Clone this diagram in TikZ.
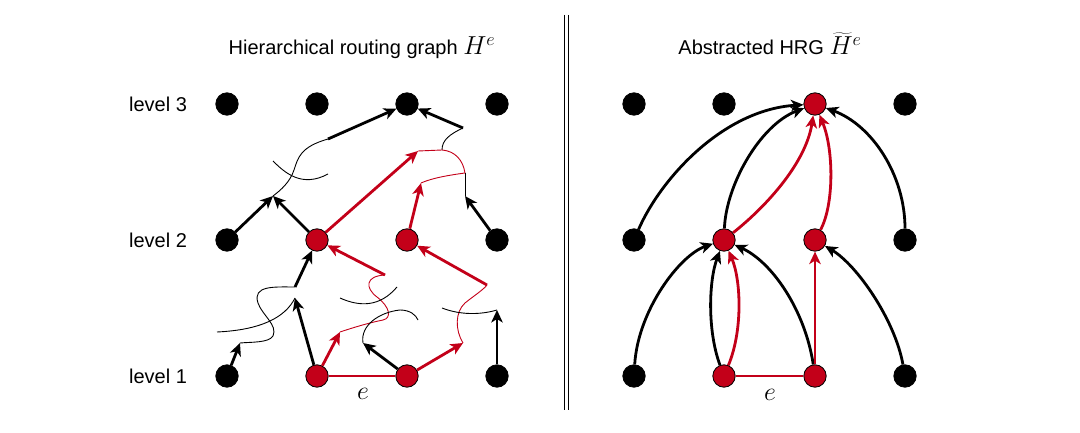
\documentclass[tikz,border=0pt]{standalone}
\usepackage{fix-cm}
\usepackage{fontspec}
\setmainfont{Liberation Sans}
\usetikzlibrary{arrows.meta}
\definecolor{hred}{RGB}{195,0,25}
\newcommand{\hrgmath}[1]{\scalebox{1.3}{$#1$}}
\tikzset{
  bn/.style={circle,draw=black,fill=black,line width=0.8pt,minimum size=22.4pt,inner sep=0pt},
  rn/.style={circle,draw=black,fill=hred,line width=0.8pt,minimum size=22.4pt,inner sep=0pt},
  tip/.style={-{Stealth[length=12.5pt,width=11.5pt,inset=3.5pt]}},
  bk/.style={tip,line width=2.8pt,black},
  rd/.style={tip,line width=2.8pt,hred},
  thinb/.style={line width=0.9pt,black},
  thinr/.style={line width=0.9pt,hred},
  lbl/.style={font=\fontsize{20}{22}\selectfont,inner sep=0pt},
}
\begin{document}
\begin{tikzpicture}[x=1pt,y=-1pt]
\useasboundingbox (0,0) rectangle (1080,433);
% titles
\node[lbl,anchor=base] (t1) at (362,55) {Hierarchical routing graph \hrgmath{H^e}};
\node[lbl,anchor=base] (t2) at (770,55) {Abstracted HRG \hrgmath{\widetilde{H}^e}};
\node[lbl] (lv3) at (158,104) {level 3};
\node[lbl] (lv2) at (158,240) {level 2};
\node[lbl] (lv1) at (158,376) {level 1};
% separator
\coordinate (s1) at (564,15); \coordinate (s2) at (564,410);
\coordinate (s3) at (568,15); \coordinate (s4) at (568,410);
\draw[line width=1pt] (s1) -- (s2);
\draw[line width=1pt] (s3) -- (s4);

% ---------------- left panel nodes
\node[bn] (a31) at (227,104) {};
\node[bn] (a32) at (317,104) {};
\node[bn] (a33) at (407,104) {};
\node[bn] (a34) at (497,104) {};
\node[bn] (a21) at (227,240) {};
\node[rn] (a22) at (317,240) {};
\node[rn] (a23) at (407,240) {};
\node[bn] (a24) at (497,240) {};
\node[bn] (a11) at (227,376) {};
\node[rn] (a12) at (317,376) {};
\node[rn] (a13) at (407,376) {};
\node[bn] (a14) at (497,376) {};
\node[lbl] (e1) at (363,394) {\hrgmath{e}};

% free ends
\coordinate (p1) at (328,139);
\coordinate (p2) at (273,196);
\coordinate (p3) at (273,161);
\coordinate (p4) at (328,174);
\coordinate (p5) at (463,128);
\coordinate (p6) at (442,150);
\coordinate (p7) at (418,151);
\coordinate (p8) at (465,173);
\coordinate (p9) at (421,183);
\coordinate (p10) at (465,196);
\coordinate (q1) at (385,275);
\coordinate (q2) at (383,320);
\coordinate (q3) at (340,332);
\coordinate (q4) at (295,298);
\coordinate (q5) at (217,332);
\coordinate (q6) at (295,287);
\coordinate (q7) at (240,343);
\coordinate (q8) at (340,298);
\coordinate (q9) at (397,287);
\coordinate (q10) at (363,343);
\coordinate (q11) at (418,320);
\coordinate (q12) at (463,343);
\coordinate (q13) at (487,285);
\coordinate (q14) at (442,308);
\coordinate (q15) at (497,310);

% thin curves (upper)
\draw[thinb] (p1) .. controls (300,147) and (298,158) .. (294,170) .. controls (290,182) and (281,190) .. (p2);
\draw[thinb] (p3) .. controls (285,173) and (302,188) .. (p4);
\draw[thinb] (p5) .. controls (450,134) and (442,140) .. (p6);
\draw[thinr] (p7) -- (p6) .. controls (455,151) and (463,160) .. (p8);
\draw[thinr] (p8) .. controls (450,175) and (432,178) .. (p9);
\draw[thinb] (p8) -- (p10);
% thick arrows (upper)
\draw[bk] (p1) -- (a33);
\draw[bk] (p5) -- (a33);
\draw[bk] (a21) -- (p2);
\draw[bk] (a22) -- (p2);
\draw[rd] (a22) -- (p7);
\draw[rd] (a23) -- (p9);
\draw[bk] (a24) -- (p10);

% thin curves (lower)
\draw[thinr] (q1) .. controls (365,276) and (365,288) .. (377,297) .. controls (390,307) and (392,318) .. (q2);
\draw[thinr] (q2) .. controls (368,323) and (352,328) .. (q3);
\draw[thinb] (q4) .. controls (285,318) and (260,330) .. (q5);
\draw[thinb] (q6) .. controls (275,287) and (252,285) .. (258,303) .. controls (262,315) and (278,325) .. (273,336) .. controls (269,343) and (250,342) .. (q7);
\draw[thinb] (q8) .. controls (360,307) and (380,307) .. (q9);
\draw[thinb] (q10) .. controls (360,325) and (380,312) .. (400,310) .. controls (410,310) and (416,315) .. (q11);
\draw[thinr] (q12) .. controls (455,330) and (455,312) .. (465,303) .. controls (475,295) and (483,290) .. (q13);
\draw[thinb] (q14) .. controls (460,315) and (480,315) .. (q15);
% thick arrows (lower)
\draw[rd] (q1) -- (a22);
\draw[rd] (a12) -- (q3);
\draw[bk] (a12) -- (q4);
\draw[bk] (q6) -- (a22);
\draw[bk] (a11) -- (q7);
\draw[bk] (a13) -- (q10);
\draw[rd] (a13) -- (q12);
\draw[rd] (q13) -- (a23);
\draw[bk] (a14) -- (q15);
\draw[line width=2.8pt,hred] (a12) -- (a13);

% ---------------- right panel nodes
\node[bn] (b31) at (634,104) {};
\node[bn] (b32) at (724,104) {};
\node[rn] (b33) at (815,104) {};
\node[bn] (b34) at (905,104) {};
\node[bn] (b21) at (634,240) {};
\node[rn] (b22) at (724,240) {};
\node[rn] (b23) at (815,240) {};
\node[bn] (b24) at (905,240) {};
\node[bn] (b11) at (634,376) {};
\node[rn] (b12) at (724,376) {};
\node[rn] (b13) at (815,376) {};
\node[bn] (b14) at (905,376) {};
\node[lbl] (e2) at (770,395) {\hrgmath{e}};

\draw[bk] (b21) .. controls (660,180) and (722,110) .. (b33);
\draw[bk] (b22) .. controls (726,185) and (760,125) .. (b33);
\draw[rd] (b22) .. controls (768,205) and (806,162) .. (b33);
\draw[rd] (b23) .. controls (834,205) and (834,150) .. (b33);
\draw[bk] (b24) .. controls (905,175) and (872,125) .. (b33);
\draw[bk] (b11) .. controls (638,310) and (680,255) .. (b22);
\draw[bk] (b12) .. controls (707,330) and (709,280) .. (b22);
\draw[rd] (b12) .. controls (743,330) and (741,280) .. (b22);
\draw[bk] (b13) .. controls (805,310) and (772,262) .. (b22);
\draw[rd] (b13) -- (b23);
\draw[bk] (b14) .. controls (895,320) and (857,265) .. (b23);
\draw[line width=2.8pt,hred] (b12) -- (b13);
\end{tikzpicture}
\end{document}
